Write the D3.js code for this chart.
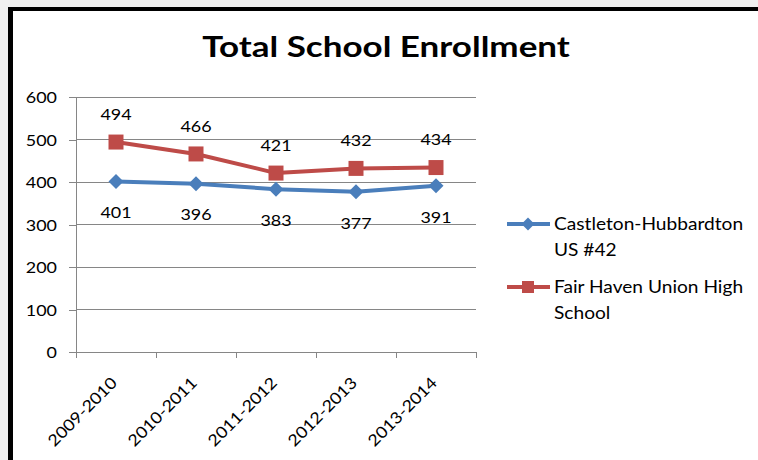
<!DOCTYPE html>
<html><head><meta charset="utf-8">
<script src="https://cdn.jsdelivr.net/npm/d3@7"></script>
<style>
html,body{margin:0;padding:0;background:#f0f0f0;}
svg{display:block;font-family:Lato,"Open Sans",sans-serif;}
</style></head>
<body>
<svg id="c" width="758" height="460"></svg>
<script>
const categories = ["2009-2010","2010-2011","2011-2012","2012-2013","2013-2014"];
const castleton = [401,396,383,377,391];
const fairHaven = [494,466,421,432,434];
const seriesNames = [["Castleton-Hubbardton","US #42"],["Fair Haven Union High","School"]];
const yTicks = [0,100,200,300,400,500,600];
const title = "Total School Enrollment";

const svg = d3.select("#c");
// panel
svg.append("rect").attr("x",8).attr("y",7).attr("width",750).attr("height",453).attr("fill","#fff");
svg.append("rect").attr("x",8).attr("y",7).attr("width",750).attr("height",4).attr("fill","#000");
svg.append("rect").attr("x",8).attr("y",7).attr("width",5).attr("height",453).attr("fill","#000");

const x = d3.scaleBand().domain(categories).range([76,476]);
const y = d3.scaleLinear().domain([0,600]).range([352,97]);
const blue="#4A7EBB", red="#BE4B48", grid="#868686";
const SX = 1.12;

svg.append("text").attr("transform","translate(386,57) scale(1.25,1)").attr("text-anchor","middle")
  .attr("font-size",28).attr("font-weight","bold").attr("fill","#000").text(title);

// grid
svg.append("g").selectAll("line").data(yTicks.filter(d=>d>0)).join("line")
  .attr("x1",76).attr("x2",476).attr("y1",d=>y(d)).attr("y2",d=>y(d))
  .attr("stroke",grid).attr("stroke-width",1).attr("shape-rendering","crispEdges");

const ya = svg.append("g").attr("transform","translate(76,0)")
  .call(d3.axisLeft(y).tickValues(yTicks).tickSize(7));
ya.select(".domain").attr("stroke",grid).attr("shape-rendering","crispEdges");
ya.selectAll(".tick line").attr("stroke",grid).attr("shape-rendering","crispEdges");
ya.selectAll("text").attr("font-size",16).attr("fill","#000").attr("font-family","Lato")
  .attr("x",0).attr("dy","0.36em").attr("transform",`translate(-19,0) scale(${SX},1)`);

const xa = svg.append("g").attr("transform","translate(0,352)")
  .call(d3.axisBottom(x).tickSize(0).tickFormat(d=>d));
xa.select(".domain").attr("stroke",grid);
xa.selectAll(".tick line").remove();
xa.selectAll("text").attr("font-size",16).attr("fill","#000").attr("font-family","Lato")
  .attr("text-anchor","end").attr("dy",null).attr("y",0)
  .attr("transform",`translate(2,32) rotate(-45) scale(${SX},1)`);
// category boundary ticks
const bounds = categories.map(c=>x(c)).concat([x.range()[1]]);
svg.append("g").selectAll("line").data(bounds).join("line")
  .attr("x1",d=>d).attr("x2",d=>d).attr("y1",352).attr("y2",358)
  .attr("stroke",grid).attr("shape-rendering","crispEdges");

const cx = d=>x(d)+x.bandwidth()/2;
const line = d3.line().x((d,i)=>cx(categories[i])).y(d=>y(d));
const diamond = r=>`M0,${-r}L${r},0L0,${r}L${-r},0Z`;
const square = r=>`M${-r},${-r}H${r}V${r}H${-r}Z`;

function drawSeries(vals,color,shape,labelDy){
  svg.append("path").datum(vals).attr("d",line).attr("fill","none")
    .attr("stroke",color).attr("stroke-width",4).attr("stroke-linejoin","round");
  svg.append("g").selectAll("path").data(vals).join("path")
    .attr("d",shape==="diamond"?diamond(7.5):square(7.5))
    .attr("transform",(d,i)=>`translate(${cx(categories[i])},${y(d)})`)
    .attr("fill",color);
  svg.append("g").selectAll("text").data(vals).join("text")
    .attr("transform",(d,i)=>`translate(${cx(categories[i])},${y(d)+labelDy}) scale(${SX},1)`)
    .attr("text-anchor","middle").attr("dy","0.36em")
    .attr("font-size",16).attr("fill","#000").text(d=>d);
}
drawSeries(castleton,blue,"diamond",31);
drawSeries(fairHaven,red,"square",-28);

// legend
const legend = [{c:blue,s:"diamond",y:224,n:seriesNames[0]},{c:red,s:"square",y:287,n:seriesNames[1]}];
legend.forEach(l=>{
  svg.append("line").attr("x1",507).attr("x2",550).attr("y1",l.y).attr("y2",l.y)
    .attr("stroke",l.c).attr("stroke-width",4);
  svg.append("path").attr("d",l.s==="diamond"?diamond(6.5):square(6))
    .attr("transform",`translate(528,${l.y})`).attr("fill",l.c);
  l.n.forEach((t,i)=>svg.append("text").attr("transform",`translate(554,${l.y+i*26}) scale(1.16,1)`)
    .attr("dy","0.36em").attr("font-size",16.5).attr("fill","#000").text(t));
});
</script>
</body></html>
